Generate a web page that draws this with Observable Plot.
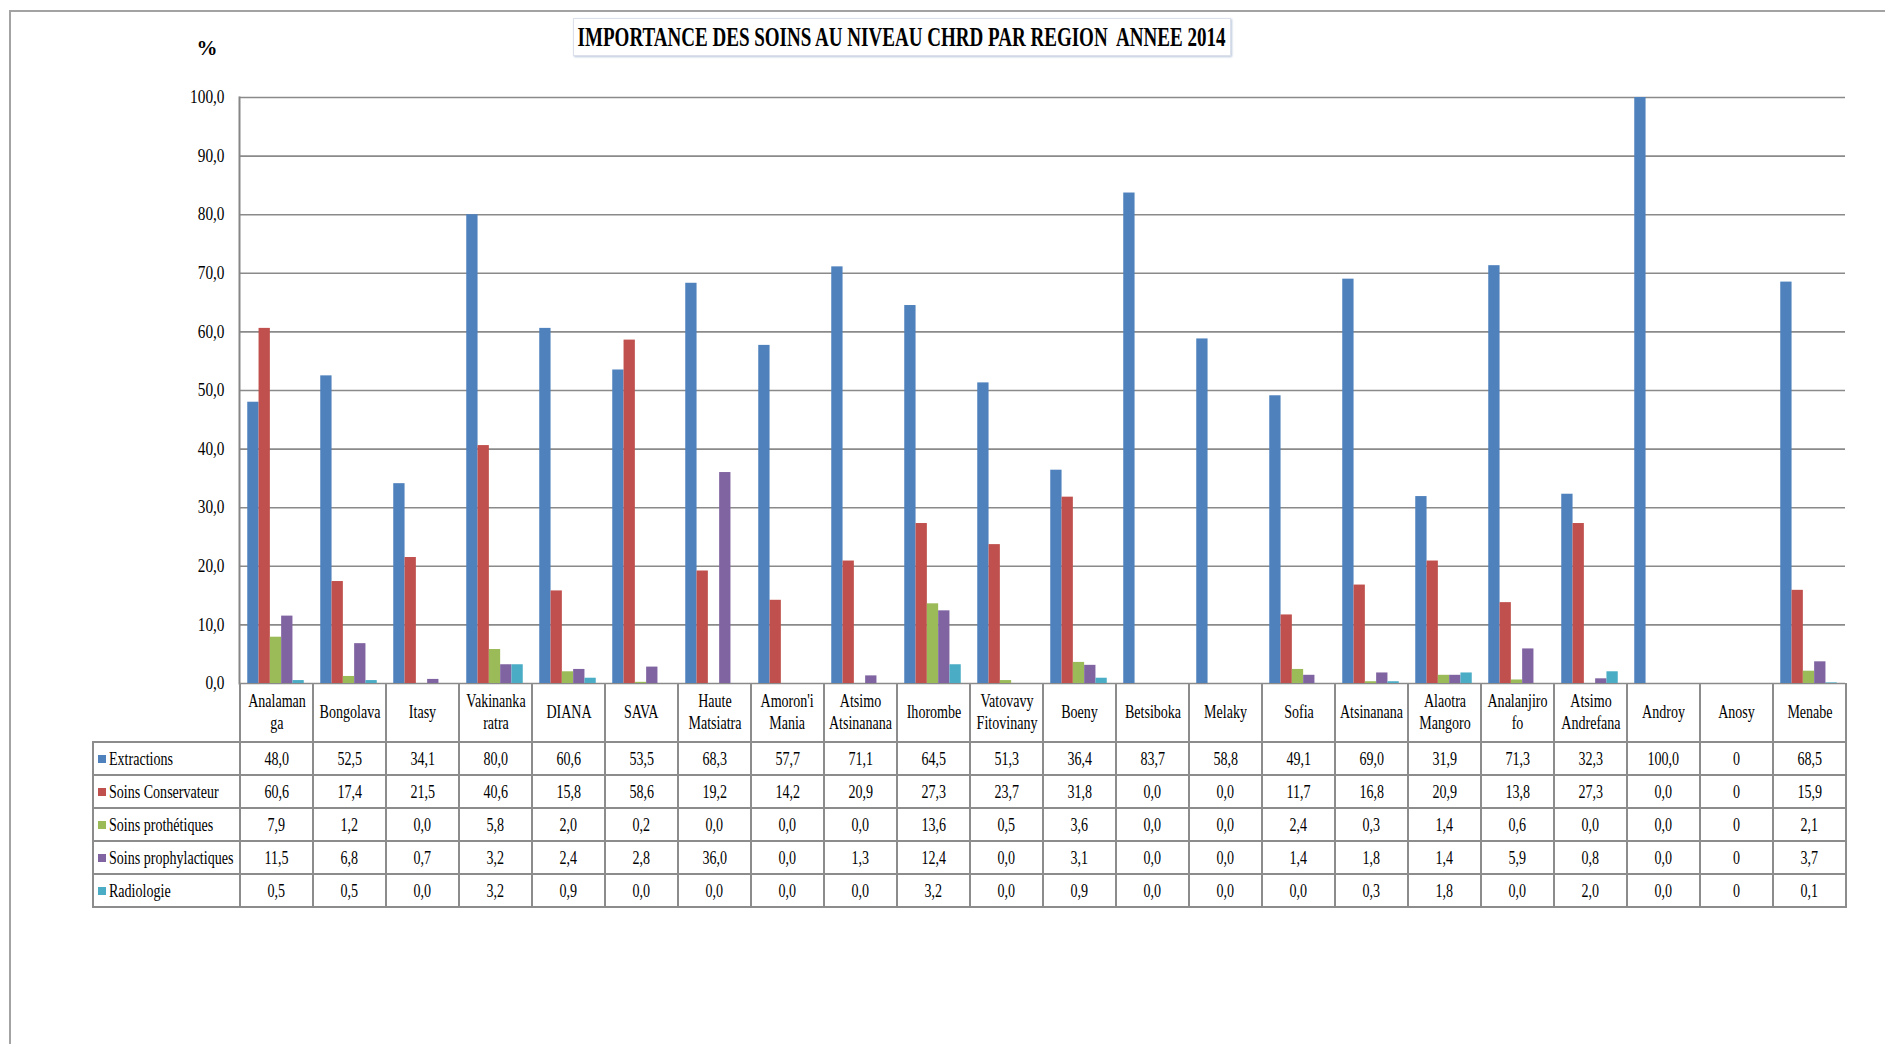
<!DOCTYPE html>
<html><head><meta charset="utf-8">
<script src="https://cdn.jsdelivr.net/npm/d3@7"></script>
<script src="https://cdn.jsdelivr.net/npm/@observablehq/plot@0.6"></script>
<style>
html,body{margin:0;padding:0;background:#fff;}
body{width:1885px;height:1044px;position:relative;overflow:hidden;font-family:'Liberation Serif','Times New Roman',serif;color:#000;}
#frame{position:absolute;left:9px;top:10px;width:2000px;height:2000px;border-left:2px solid #a3a3a3;border-top:2px solid #a3a3a3;}
#title{position:absolute;left:573px;top:18px;width:656px;height:36px;border:1px solid #dbe0ea;box-shadow:1px 1px 2px #b9c7dd;display:flex;align-items:center;justify-content:center;background:#fff;}
#title span{display:inline-block;font-weight:bold;font-size:27px;white-space:nowrap;flex-shrink:0;}
#pct{position:absolute;left:187px;top:36px;width:40px;text-align:center;font-weight:bold;font-size:21px;}
#chart{position:absolute;left:0;top:0;}
table{position:absolute;left:92px;top:683px;border-collapse:collapse;table-layout:fixed;width:1753px;}
td{border:2px solid #8c8c8c;padding:0;font-size:18px;line-height:22px;}
td.blank{border-left:none;border-top:none;}
td.head{border-top:none;}
.cell{height:31px;display:flex;align-items:center;justify-content:center;overflow:visible;}
.hcell{height:58px;}
.lcell{justify-content:flex-start;padding-left:4px;}
.t{display:inline-block;white-space:pre;text-align:center;flex-shrink:0;transform:scaleX(0.78);}
.lcell .t{transform-origin:left center;}
.sw{display:inline-block;width:8px;height:8px;margin-right:3px;flex-shrink:0;}
</style>
</head>
<body>
<div id="frame"></div>
<div id="pct">%</div>
<div id="title"><span id="titletext">IMPORTANCE DES SOINS AU NIVEAU CHRD PAR REGION&nbsp; ANNEE 2014</span></div>
<div id="chart"></div>
<script>
const regions = ["Analamanga","Bongolava","Itasy","Vakinankaratra","DIANA","SAVA","Haute Matsiatra","Amoron'i Mania","Atsimo Atsinanana","Ihorombe","Vatovavy Fitovinany","Boeny","Betsiboka","Melaky","Sofia","Atsinanana","Alaotra Mangoro","Analanjirofo","Atsimo Andrefana","Androy","Anosy","Menabe"];
const regionLabels = ["Analaman\nga","Bongolava","Itasy","Vakinanka\nratra","DIANA","SAVA","Haute\nMatsiatra","Amoron'i\nMania","Atsimo\nAtsinanana","Ihorombe","Vatovavy\nFitovinany","Boeny","Betsiboka","Melaky","Sofia","Atsinanana","Alaotra\nMangoro","Analanjiro\nfo","Atsimo\nAndrefana","Androy","Anosy","Menabe"];
const seriesNames = ["Extractions","Soins Conservateur","Soins prothétiques","Soins prophylactiques","Radiologie"];
const seriesColors = ["#4F81BD","#C0504D","#9BBB59","#8064A2","#4BACC6"];
const extractions = [48.0,52.5,34.1,80.0,60.6,53.5,68.3,57.7,71.1,64.5,51.3,36.4,83.7,58.8,49.1,69.0,31.9,71.3,32.3,100.0,null,68.5];
const soinsConservateur = [60.6,17.4,21.5,40.6,15.8,58.6,19.2,14.2,20.9,27.3,23.7,31.8,0.0,0.0,11.7,16.8,20.9,13.8,27.3,0.0,null,15.9];
const soinsProthetiques = [7.9,1.2,0.0,5.8,2.0,0.2,0.0,0.0,0.0,13.6,0.5,3.6,0.0,0.0,2.4,0.3,1.4,0.6,0.0,0.0,null,2.1];
const soinsProphylactiques = [11.5,6.8,0.7,3.2,2.4,2.8,36.0,0.0,1.3,12.4,0.0,3.1,0.0,0.0,1.4,1.8,1.4,5.9,0.8,0.0,null,3.7];
const radiologie = [0.5,0.5,0.0,3.2,0.9,0.0,0.0,0.0,0.0,3.2,0.0,0.9,0.0,0.0,0.0,0.3,1.8,0.0,2.0,0.0,null,0.1];
const yTicks = [0,10,20,30,40,50,60,70,80,90,100];

const seriesValues = [extractions, soinsConservateur, soinsProthetiques, soinsProphylactiques, radiologie];
const fmt = v => v == null ? "0" : d3.format(".1f")(v).replace(".", ",");

const rows = [];
seriesValues.forEach((vals, s) => vals.forEach((v, r) => {
  rows.push({region: regions[r], series: seriesNames[s], value: v});
}));

const chart = Plot.plot({
  width: 1885, height: 700,
  marginLeft: 239, marginRight: 40, marginTop: 97, marginBottom: 17,
  style: {fontFamily: "'Liberation Serif', serif", fontSize: "18px", color: "#000", background: "transparent", overflow: "visible"},
  fx: {domain: regions, paddingInner: 0, paddingOuter: 0, axis: null, label: null},
  x: {domain: seriesNames, paddingInner: 0, paddingOuter: 0.73, round: false, axis: null},
  y: {domain: [0, 100], axis: null, label: null},
  color: {domain: seriesNames, range: seriesColors},
  marks: [
    Plot.gridY(yTicks, {stroke: "#8a8a8a", strokeOpacity: 1, strokeWidth: 1.6}),
    Plot.barY(rows, {fx: "region", x: "series", y: "value", fill: "series"}),
    Plot.axisY(yTicks, {tickSize: 0, tickPadding: 15, tickFormat: fmt, fontSize: 18, label: null, facetAnchor: "left"}),
    Plot.frame({anchor: "left", facetAnchor: "left", stroke: "#868686", strokeWidth: 2})
  ]
});
chart.querySelectorAll("text").forEach(t => {
  const tr = t.getAttribute("transform");
  if (tr) t.setAttribute("transform", tr + " scale(0.85,1)");
  else {
    const x = t.getAttribute("x") || 0, y = t.getAttribute("y") || 0;
    t.removeAttribute("x"); t.removeAttribute("y");
    t.setAttribute("transform", `translate(${x},${y}) scale(0.85,1)`);
  }
});
document.getElementById("chart").appendChild(chart);

// data table
const table = document.createElement("table");
const cg = document.createElement("colgroup");
[147, ...regions.map(() => 73)].forEach(w => { const c = document.createElement("col"); c.style.width = w + "px"; cg.appendChild(c); });
table.appendChild(cg);
const mkCell = (cls, inner, tdcls) => {
  const td = document.createElement("td");
  if (tdcls) td.className = tdcls;
  const d = document.createElement("div");
  d.className = "cell " + cls;
  d.innerHTML = inner;
  td.appendChild(d);
  return td;
};
const esc = s => s.replace(/&/g,"&amp;").replace(/</g,"&lt;");
const hr = document.createElement("tr");
hr.appendChild(mkCell("hcell", "", "blank"));
regionLabels.forEach(l => hr.appendChild(mkCell("hcell", `<span class="t">${esc(l)}</span>`, "head")));
table.appendChild(hr);
seriesNames.forEach((name, s) => {
  const tr = document.createElement("tr");
  tr.appendChild(mkCell("lcell", `<span class="sw" style="background:${seriesColors[s]}"></span><span class="t">${esc(name)}</span>`));
  seriesValues[s].forEach(v => tr.appendChild(mkCell("", `<span class="t">${fmt(v)}</span>`)));
  table.appendChild(tr);
});
document.body.appendChild(table);

// fit title width
const tt = document.getElementById("titletext");
const w = tt.getBoundingClientRect().width;
tt.style.transform = `scaleX(${648 / w})`;
</script>
</body></html>
